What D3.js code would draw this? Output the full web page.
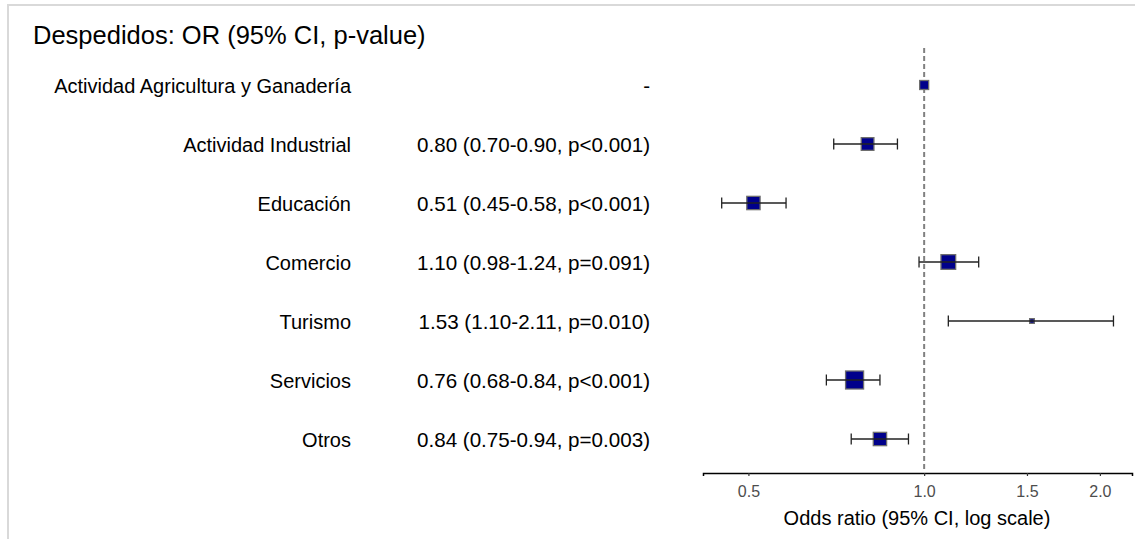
<!DOCTYPE html>
<html>
<head>
<meta charset="utf-8">
<script src="https://cdn.jsdelivr.net/npm/d3@7"></script>
<style>
  html, body { margin: 0; padding: 0; background: #fff; }
  svg { display: block; font-family: "Liberation Sans", Arial, sans-serif; }
</style>
</head>
<body>
<svg id="chart" width="1135" height="539"></svg>
<script>
// ---- Data ----
const title = "Despedidos: OR (95% CI, p-value)";
const categories = ["Actividad Agricultura y Ganadería", "Actividad Industrial", "Educación", "Comercio", "Turismo", "Servicios", "Otros"];
const oddsRatio = [1.00, 0.80, 0.51, 1.10, 1.53, 0.76, 0.84];
const ciLower = [null, 0.70, 0.45, 0.98, 1.10, 0.68, 0.75];
const ciUpper = [null, 0.90, 0.58, 1.24, 2.11, 0.84, 0.94];
const orLabels = ["-", "0.80 (0.70-0.90, p<0.001)", "0.51 (0.45-0.58, p<0.001)", "1.10 (0.98-1.24, p=0.091)", "1.53 (1.10-2.11, p=0.010)", "0.76 (0.68-0.84, p<0.001)", "0.84 (0.75-0.94, p=0.003)"];
const weights = [81, 161, 177, 216, 22, 324, 177]; // relative group weights (box area)
const tickValues = [0.5, 1.0, 1.5, 2.0];
const xTitle = "Odds ratio (95% CI, log scale)";

// ---- Layout ----
const svg = d3.select("#chart");

// border
svg.append("line").attr("x1", 7).attr("x2", 1135).attr("y1", 5).attr("y2", 5)
  .attr("stroke", "#d9d9d9").attr("stroke-width", 2);
svg.append("line").attr("x1", 8).attr("x2", 8).attr("y1", 4).attr("y2", 539)
  .attr("stroke", "#d9d9d9").attr("stroke-width", 2);

svg.append("text").attr("x", 33).attr("y", 44).attr("font-size", 25.5).attr("fill", "#000").text(title);

const x = d3.scaleLog().domain([0.418, 2.27]).range([703, 1132]);
const y = d3.scalePoint().domain(categories).range([85, 439]);
const size = d3.scaleSqrt().domain([0, 324]).range([0, 18]);

// labels
svg.append("g").selectAll("text").data(categories).join("text")
  .attr("x", 351).attr("y", d => y(d) + 8)
  .attr("text-anchor", "end").attr("font-size", 20).attr("fill", "#000")
  .text(d => d);

svg.append("g").selectAll("text").data(orLabels).join("text")
  .attr("x", 650).attr("y", (d, i) => y(categories[i]) + 8)
  .attr("text-anchor", "end").attr("font-size", 20.6).attr("fill", "#000")
  .text(d => d);

// reference line
svg.append("line").attr("x1", x(1)).attr("x2", x(1)).attr("y1", 48).attr("y2", 472)
  .attr("stroke", "#808080").attr("stroke-width", 2).attr("stroke-dasharray", "5,3");

// axis
const axisG = svg.append("g").attr("transform", "translate(0,473)")
  .call(d3.axisBottom(x).tickValues(tickValues).tickFormat(d3.format(".1f")).tickSize(3).tickPadding(10));
axisG.select(".domain").attr("stroke", "#000").attr("stroke-width", 1.5);
axisG.selectAll(".tick line").attr("stroke", "#333").attr("stroke-width", 1.2);
axisG.selectAll(".tick text").attr("font-size", 16).attr("fill", "#4d4d4d")
  .attr("font-family", "'Liberation Sans', Arial, sans-serif");

svg.append("text").attr("x", 917).attr("y", 525).attr("text-anchor", "middle")
  .attr("font-size", 20).attr("fill", "#000").text(xTitle);

const rows = categories.map((c, i) => ({ c, or: oddsRatio[i], lo: ciLower[i], hi: ciUpper[i], w: weights[i] }));

// boxes
svg.append("g").selectAll("rect").data(rows).join("rect")
  .attr("x", d => x(d.or) - size(d.w) / 2).attr("y", d => y(d.c) - size(d.w) / 2)
  .attr("width", d => size(d.w)).attr("height", d => size(d.w))
  .attr("fill", "#00008B").attr("stroke", "#6e6e6e").attr("stroke-width", 1.3);

// error bars (drawn over boxes)
const eb = svg.append("g").selectAll("g").data(rows.filter(r => r.lo != null)).join("g");
eb.append("line").attr("x1", d => x(d.lo)).attr("x2", d => x(d.hi))
  .attr("y1", d => y(d.c)).attr("y2", d => y(d.c)).attr("stroke", "#222").attr("stroke-width", 1.3);
eb.append("line").attr("x1", d => x(d.lo)).attr("x2", d => x(d.lo))
  .attr("y1", d => y(d.c) - 5.5).attr("y2", d => y(d.c) + 5.5).attr("stroke", "#222").attr("stroke-width", 1.3);
eb.append("line").attr("x1", d => x(d.hi)).attr("x2", d => x(d.hi))
  .attr("y1", d => y(d.c) - 5.5).attr("y2", d => y(d.c) + 5.5).attr("stroke", "#222").attr("stroke-width", 1.3);
</script>
</body>
</html>
